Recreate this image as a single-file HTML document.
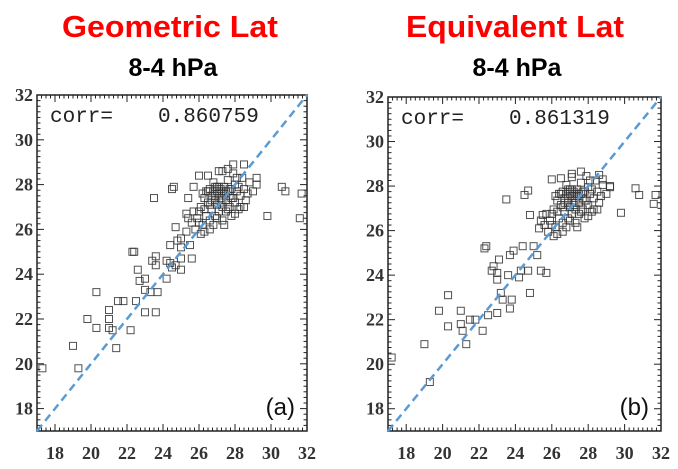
<!DOCTYPE html>
<html><head><meta charset="utf-8"><style>
body{margin:0;background:#fff;width:678px;height:469px;overflow:hidden}
svg{display:block}
</style></head><body>
<svg id="chart" width="678" height="469" xmlns="http://www.w3.org/2000/svg">
<text x="170" y="37" text-anchor="middle" font-family="Liberation Sans, sans-serif" font-weight="bold" font-size="31" fill="#ff0000" textLength="216" lengthAdjust="spacingAndGlyphs">Geometric Lat</text>
<text x="173" y="76" text-anchor="middle" font-family="Liberation Sans, sans-serif" font-weight="bold" font-size="25" fill="#000">8-4 hPa</text>
<text x="515" y="37" text-anchor="middle" font-family="Liberation Sans, sans-serif" font-weight="bold" font-size="31" fill="#ff0000" textLength="218" lengthAdjust="spacingAndGlyphs">Equivalent Lat</text>
<text x="517" y="76" text-anchor="middle" font-family="Liberation Sans, sans-serif" font-weight="bold" font-size="25" fill="#000">8-4 hPa</text>
<g id="pa"></g><g id="pb"></g>
</svg>
<script>
const ticks = [18,20,22,24,26,28,30,32];
const corrA = "0.860759";
const corrB = "0.861319";
const cluster = [[25.6,26.3],[25.8,26.0],[25.9,26.5],[26.0,26.8],[26.1,27.0],[26.2,26.2],[26.3,27.4],[26.3,25.9],[26.4,26.6],[26.5,27.7],[26.5,27.2],[26.6,26.4],[26.6,27.8],[26.7,27.5],[26.7,26.9],[26.8,27.7],[26.8,28.1],[26.9,27.3],[26.9,26.6],[27.0,27.7],[27.0,27.9],[27.0,27.1],[27.1,27.6],[27.1,26.8],[27.2,27.8],[27.2,27.4],[27.3,27.7],[27.3,27.0],[27.3,26.4],[27.4,27.9],[27.4,27.6],[27.5,27.3],[27.5,26.8],[27.6,27.7],[27.6,28.2],[27.7,27.5],[27.7,27.0],[27.8,27.8],[27.8,26.6],[27.9,27.4],[28.0,28.0],[28.0,27.2],[28.1,27.7],[28.2,26.9],[28.3,27.5],[28.4,28.3],[28.5,27.8],[28.6,27.3],[28.8,28.1],[29.0,27.7],[26.2,27.6],[26.4,27.7],[26.7,27.3],[26.9,27.9],[27.2,27.2],[27.5,27.7],[27.8,27.4],[28.2,27.9],[26.0,26.3],[25.7,26.8],[26.3,26.9],[26.6,26.0],[27.0,26.5],[27.4,26.2],[28.0,26.7],[28.3,27.0],[28.7,27.6],[25.4,26.5],[26.1,25.8],[26.8,26.2],[27.6,26.9],[28.5,27.0],[29.2,28.0],[26.5,28.4],[27.1,28.6],[27.9,28.5],[27.6,28.7],[28.1,28.3],[26.9,27.5],[27.3,27.3],[27.1,27.9],[26.6,27.1],[27.7,27.8]];
const outA = [[17.3,19.8],[19,20.8],[19.3,19.8],[19.8,22],[20.3,23.2],[20.3,21.6],[21,21.6],[21,22.4],[21,22],[21.2,21.5],[21.4,20.7],[21.5,22.8],[21.8,22.8],[22.2,21.5],[22.3,25],[22.4,25],[22.5,22.8],[22.6,24.2],[22.7,23.7],[23,23.3],[23,23.8],[23,22.3],[23.3,23.2],[23.4,24.6],[23.5,27.4],[23.6,24.8],[23.6,24.4],[23.6,22.3],[23.7,23.2],[24.2,23.8],[24.2,24.6],[24.4,25.3],[24.4,24.5],[24.5,24.3],[24.5,27.8],[24.6,27.9],[24.7,24.4],[24.7,26.1],[24.8,25.5],[25,24.2],[25,24.7],[25,25.2],[25,25.6],[25.3,25.9],[25.3,26.7],[25.4,27.4],[25.5,25.3],[25.6,24.7],[25.7,27.9],[26,28.4],[29.8,26.6],[30.6,27.9],[30.8,27.7],[31.6,26.5],[31.7,27.6],[29.2,28.3],[28.5,28.9],[27.9,28.9],[27.3,28.6]];
const outB = [[17.2,20.3],[19,20.9],[19.3,19.2],[19.8,22.4],[20.3,23.1],[20.3,21.7],[21,22.4],[21,21.8],[21.1,21.5],[21.3,20.9],[21.5,22],[21.8,22],[22.2,21.5],[22.3,25.2],[22.4,25.3],[22.5,22.2],[22.7,24.2],[22.8,24.4],[23,24.1],[23,23.8],[23,22.3],[23.1,24.7],[23.2,23.2],[23.3,22.9],[23.5,27.4],[23.6,24],[23.7,24.9],[23.7,22.5],[23.8,22.9],[23.9,25.1],[24.2,23.9],[24.3,24.2],[24.4,25.3],[24.5,27.6],[24.7,27.8],[24.7,24.2],[24.8,26.7],[24.8,23.2],[25,25.3],[25.2,24.9],[25.3,26.1],[25.4,24.2],[25.5,26.7],[25.7,24.1],[26,28.3],[29.8,26.8],[30.6,27.9],[30.8,27.6],[31.6,27.2],[31.7,27.6],[29.2,28],[28.6,28.5],[28.8,28.3],[27.1,28.4]];
const NS='http://www.w3.org/2000/svg';
function mk(p,tag,a){const e=document.createElementNS(NS,tag);for(const k in a)e.setAttribute(k,a[k]);p.appendChild(e);return e;}
function panel(id,L,R,T,B,pts,corr,lab){
 const g=document.getElementById(id);
 const xs=v=>L+(v-17)/15*(R-L), ys=v=>B-(v-17)/15*(B-T);
 const box=mk(g,'rect',{x:L,y:T,width:R-L,height:B-T,fill:'#fff',stroke:'#222','stroke-width':1.5});
 
 
 for(let v=17.25;v<32;v+=0.25){
  const big=Math.abs(v-Math.round(v/2)*2)<1e-6, len=big?7:3.5;
  mk(g,'line',{x1:xs(v),x2:xs(v),y1:B,y2:B-len,stroke:'#222','stroke-width':1});
  mk(g,'line',{x1:xs(v),x2:xs(v),y1:T,y2:T+len,stroke:'#222','stroke-width':1});
  mk(g,'line',{x1:L,x2:L+len,y1:ys(v),y2:ys(v),stroke:'#222','stroke-width':1});
  mk(g,'line',{x1:R,x2:R-len,y1:ys(v),y2:ys(v),stroke:'#222','stroke-width':1});
 }
 ticks.forEach(t=>{
  const a=mk(g,'text',{x:xs(t),y:B+28,'text-anchor':'middle','font-family':'Liberation Serif, serif','font-weight':'bold','font-size':18,fill:'#333'});a.textContent=t;
  
  
  const b=mk(g,'text',{x:L-4,y:ys(t)+6,'text-anchor':'end','font-family':'Liberation Serif, serif','font-weight':'bold','font-size':18,fill:'#333'});b.textContent=t;
  
  
 });
 pts.forEach(p=>{
  const r=mk(g,'rect',{x:xs(p[0])-3.5,y:ys(p[1])-3.5,width:7,height:7,fill:'none',stroke:'#333','stroke-width':1,'stroke-opacity':0.85});
  
  
 });
 const ln=mk(g,'line',{x1:xs(17),y1:ys(17),x2:xs(32),y2:ys(32),stroke:'#5b9bd5','stroke-width':2.5,'stroke-dasharray':'8,5'});
 
 
 const c=mk(g,'text',{x:L+13,y:T+27,'font-family':'Liberation Mono, monospace','font-size':21,fill:'#222'});c.textContent='corr=';
 
 
 const cv=mk(g,'text',{x:L+121,y:T+27,'font-family':'Liberation Mono, monospace','font-size':21,fill:'#222'});cv.textContent=corr;
 
 
 const l=mk(g,'text',{x:R-12,y:B-16,'text-anchor':'end','font-family':'Liberation Sans, sans-serif','font-size':24,fill:'#111'});l.textContent=lab;
 
 
}
panel('pa',37,307,95,431,outA.concat(cluster),corrA,'(a)');
panel('pb',388,661,97,431,outB.concat(cluster.map(p=>[p[0],p[1]-0.05])),corrB,'(b)');
</script>
</body></html>
